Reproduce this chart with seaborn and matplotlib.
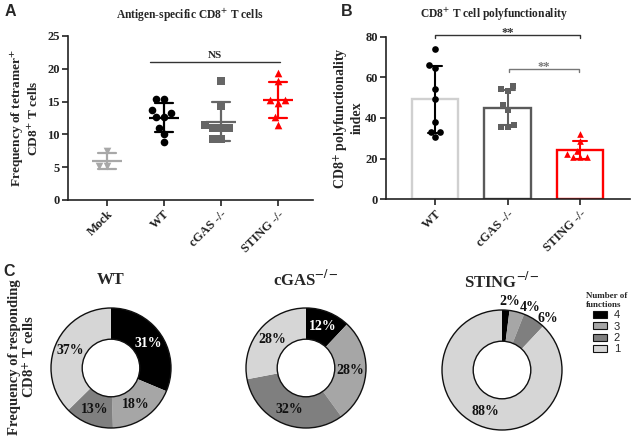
import matplotlib
matplotlib.use('Agg')
import matplotlib.pyplot as plt
from matplotlib.patches import Patch, Circle
import seaborn as sns
import numpy as np
import pandas as pd

# Panel A: frequency of tetramer+ CD8+ T cells
groups_a = ['Mock', 'WT', 'cGAS -/-', 'STING -/-']
mock_a = [7.4, 5.2, 5.2]
wt_a = [15.4, 15.4, 13.7, 13.2, 12.7, 12.7, 11.0, 10.1, 8.8]
cgas_a = [18.1, 14.3, 11.5, 11.0, 11.0, 11.0, 9.3, 9.3]
sting_a = [19.3, 18.1, 15.3, 15.3, 14.8, 12.6, 11.5]

# Panel B: polyfunctionality index
groups_b = ['WT', 'cGAS -/-', 'STING -/-']
wt_b = [73.8, 66.1, 64.5, 54.2, 49.2, 37.9, 33.0, 33.0, 30.5]
cgas_b = [55.5, 54.5, 53.5, 46.4, 43.8, 36.6, 35.5, 35.5]
sting_b = [32.2, 28.9, 23.9, 22.2, 21.0, 21.0, 21.0]

# Panel C: fraction of cells by number of functions (4, 3, 2, 1)
n_functions = ['4', '3', '2', '1']
wt_c = [31, 18, 13, 37]
cgas_c = [12, 28, 32, 28]
sting_c = [2, 4, 6, 88]

sns.set_style('ticks')
plt.rcParams['font.family'] = ['Liberation Serif', 'DejaVu Serif']
plt.rcParams['font.weight'] = 'bold'
plt.rcParams['axes.labelweight'] = 'bold'
plt.rcParams['mathtext.fontset'] = 'stix'
plt.rcParams['axes.linewidth'] = 1.2
plt.rcParams['axes.edgecolor'] = '#222222'

W, H = 633, 442
fig = plt.figure(figsize=(W / 100, H / 100), dpi=100)


def px_axes(left, top, right, bottom):
    return fig.add_axes([left / W, 1 - bottom / H, (right - left) / W, (bottom - top) / H])


def style_axis(ax):
    sns.despine(ax=ax)
    ax.tick_params(direction='out', length=4, width=1.2, labelsize=9, colors='#222222',
                   pad=2)
    ax.set_xlabel('')
    for lab in ax.get_xticklabels():
        lab.set_rotation(45)
        lab.set_ha('right')
        lab.set_rotation_mode('anchor')


# ---------- A ----------
vals_a = [mock_a, wt_a, cgas_a, sting_a]
df_a = pd.DataFrame({'group': np.repeat(groups_a, [len(v) for v in vals_a]),
                     'value': np.concatenate(vals_a)})
colors_a = ['#a8a8a8', '#000000', '#666666', '#ff0000']
markers_a = ['v', 'o', 's', '^']

axA = px_axes(68, 36, 313, 200)
for g, m, c in zip(groups_a, markers_a, colors_a):
    sns.swarmplot(data=df_a[df_a.group == g], x='group', y='value', order=groups_a,
                  marker=m, color=c, size=5.5, ax=axA)
sns.pointplot(data=df_a, x='group', y='value', hue='group', order=groups_a,
              palette=dict(zip(groups_a, colors_a)), errorbar='sd', capsize=0.32,
              marker='_', markersize=22, markeredgewidth=1.6, linestyle='none',
              err_kws={'linewidth': 1.6}, legend=False, ax=axA)
axA.set_xlim(-0.68, 3.62)
axA.set_ylim(0, 25)
axA.set_yticks(range(0, 26, 5))
axA.set_ylabel('Frequency of tetramer$^{+}$\nCD8$^{+}$ T cells', fontsize=9.6,
               linespacing=1.1)
axA.yaxis.set_label_coords(-0.11, 0.5)
style_axis(axA)
axA.plot([0.76, 3.04], [21, 21], color='#333333', lw=1)
axA.text(1.9, 21.3, 'NS', ha='center', va='bottom', fontsize=8)

# ---------- B ----------
vals_b = [wt_b, cgas_b, sting_b]
df_b = pd.DataFrame({'group': np.repeat(groups_b, [len(v) for v in vals_b]),
                     'value': np.concatenate(vals_b)})
bar_colors = ['#d0d0d0', '#5a5a5a', '#ff0000']
err_colors = ['#000000', '#606060', '#ff0000']
markers_b = ['o', 's', '^']

axB = px_axes(386, 36.7, 630, 199.3)
sns.barplot(data=df_b, x='group', y='value', hue='group', order=groups_b,
            palette=dict(zip(groups_b, bar_colors)), fill=False, errorbar=None,
            width=0.64, linewidth=1.7, legend=False, ax=axB)
sns.pointplot(data=df_b, x='group', y='value', hue='group', order=groups_b,
              palette=dict(zip(groups_b, err_colors)), errorbar='sd', capsize=0.2,
              markersize=0, linestyle='none', err_kws={'linewidth': 1.5},
              legend=False, ax=axB)
for g, m, c in zip(groups_b, markers_b, err_colors):
    sns.swarmplot(data=df_b[df_b.group == g], x='group', y='value', order=groups_b,
                  marker=m, color=c, size=4.8, ax=axB)
axB.set_xlim(-0.68, 2.69)
axB.set_ylim(0, 80)
axB.set_yticks(range(0, 81, 20))
axB.set_ylabel('CD8$^{+}$ polyfunctionality\nindex', fontsize=10, linespacing=1.0)
axB.yaxis.set_label_coords(-0.092, 0.5)
style_axis(axB)


def bracket(ax, x1, x2, y, color, text):
    ax.plot([x1, x1, x2, x2], [y - 1.6, y, y, y - 1.6], color=color, lw=1, clip_on=False)
    ax.text((x1 + x2) / 2, y + 1.0, text, ha='center', va='center', fontsize=9,
            color=color)


bracket(axB, 0, 2, 81, '#333333', '**')
bracket(axB, 1.02, 1.99, 64, '#777777', '**')

# ---------- C ----------
pie_colors = ['#000000', '#a6a6a6', '#7f7f7f', '#d6d6d6']
donuts = [(wt_c, 'WT', 111, 368), (cgas_c, 'cGAS$^{-/-}$', 306, 368),
          (sting_c, 'STING$^{-/-}$', 502, 370)]
# angular nudges (deg) for labels of thin slices drawn outside the ring
outside_shift = [3, 10, 9]
hole = 0.48
for vals, title, cx, cy in donuts:
    ax = px_axes(cx - 70, cy - 70, cx + 70, cy + 70)
    wedges, _ = ax.pie(vals, colors=pie_colors, startangle=90, counterclock=False,
                       radius=1, wedgeprops=dict(width=1 - hole, edgecolor='none'))
    ax.add_patch(Circle((0, 0), 1, fill=False, ec='#111111', lw=1))
    ax.add_patch(Circle((0, 0), hole, fill=False, ec='#111111', lw=1))
    k = 0
    for w, v, col in zip(wedges, vals, pie_colors):
        ang = np.deg2rad((w.theta1 + w.theta2) / 2)
        if v < 10:
            r = 1.15
            ang -= np.deg2rad(outside_shift[k])
            k += 1
        else:
            r = (1 + hole) / 2
        tc = 'white' if col == '#000000' and v >= 10 else '#111111'
        ax.text(r * np.cos(ang), r * np.sin(ang), f'{v}%', ha='center', va='center',
                fontsize=10, color=tc)
    ax.text(0, 1.47, title, ha='center', va='center', fontsize=12)
    ax.set_xlim(-70 / 60, 70 / 60)
    ax.set_ylim(-70 / 60, 70 / 60)
    ax.set_aspect('equal')
    ax.axis('off')

handles = [Patch(facecolor=c, edgecolor='#111111', linewidth=0.8, label=l)
           for c, l in zip(pie_colors, n_functions)]
fig.legend(handles=handles, loc='upper left', bbox_to_anchor=(578 / W, 1 - 284 / H),
           frameon=False, title='Number of\nfunctions',
           prop={'family': 'Liberation Sans', 'size': 8, 'weight': 'normal'},
           title_fontproperties={'family': 'Liberation Serif', 'weight': 'bold', 'size': 6.5},
           handlelength=1.3, handleheight=0.6, labelspacing=0.12, handletextpad=0.6,
           borderpad=0.2)

fig.text(23 / W, 1 - 357 / H, 'Frequency of responding\nCD8$^{+}$ T cells', rotation=90,
         ha='center', va='center', fontsize=10.5, linespacing=1.05)

# titles and panel letters
fig.text(190 / W, 1 - 15 / H, 'Antigen-specific CD8$^{+}$ T cells', ha='center',
         va='center', fontsize=8.3)
fig.text(494 / W, 1 - 14 / H, 'CD8$^{+}$ T cell polyfunctionality', ha='center',
         va='center', fontsize=8.3)
for letter, x, y in [('A', 10, 12), ('B', 347, 12), ('C', 9, 272)]:
    fig.text(x / W, 1 - y / H, letter, ha='center', va='center', fontsize=11.5,
             family='Liberation Sans', weight='bold')

fig.savefig('out.png', dpi=100)
